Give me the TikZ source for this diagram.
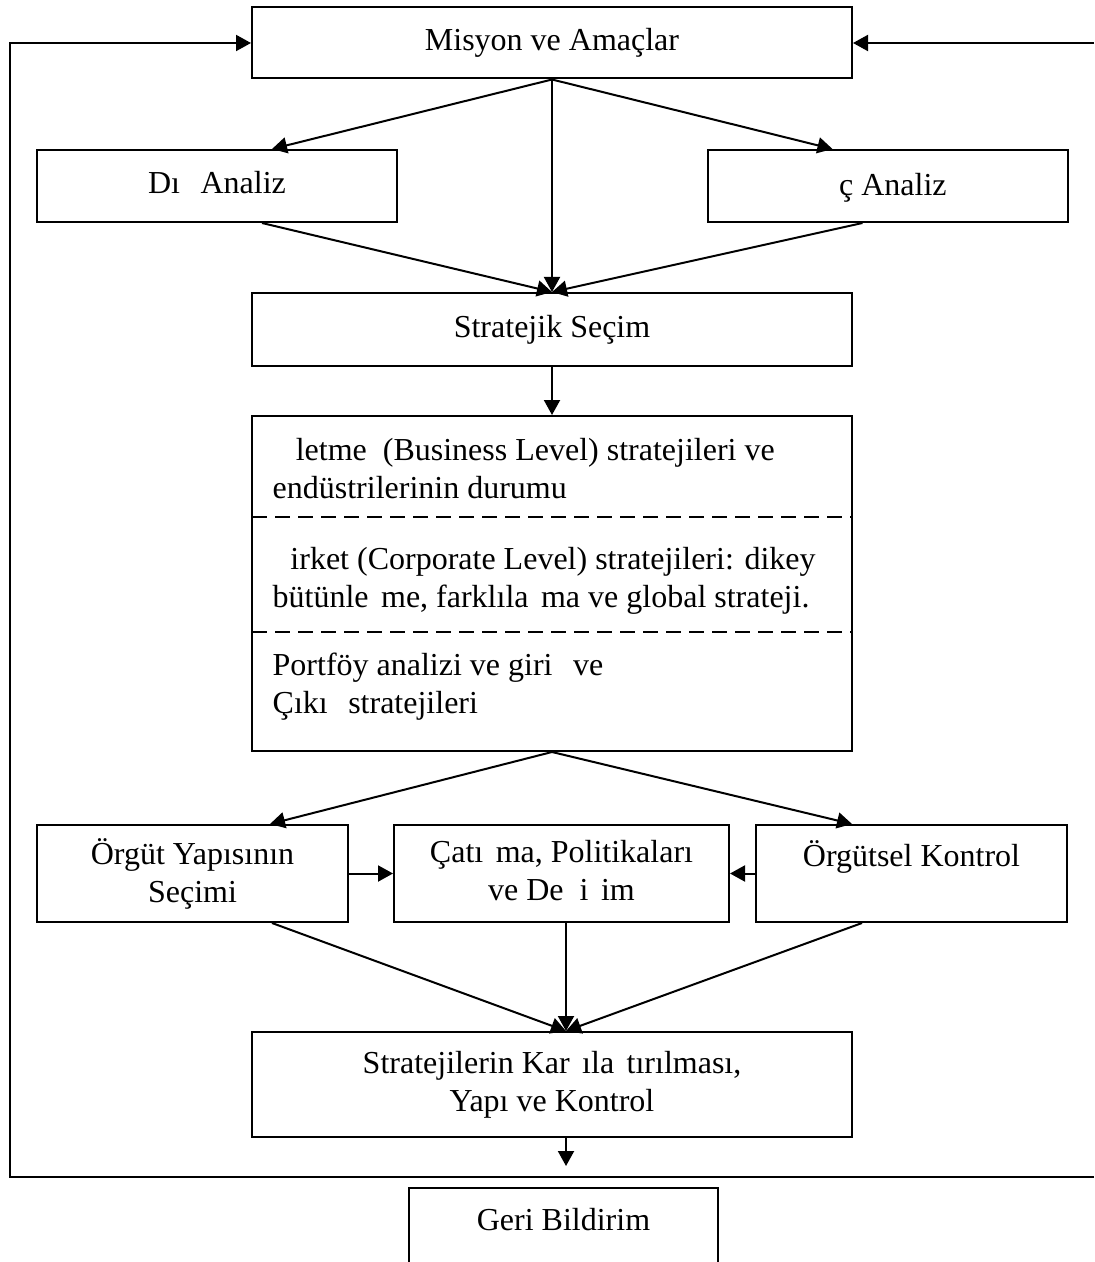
\documentclass[tikz,border=0pt]{standalone}
\usepackage{fontspec}
\setmainfont{Liberation Serif}
\usetikzlibrary{arrows.meta,calc}

\begin{document}
\begin{tikzpicture}[x=0.5pt,y=-0.5pt,line width=1pt,
    every node/.style={font=\fontsize{16}{19}\selectfont},
    box/.style={draw, inner sep=0pt, align=center},
    >={Triangle[length=7.5pt,width=8pt]}]
    \useasboundingbox (0,0) rectangle (1094,1262);

    \node[box, minimum width=300pt, minimum height=35.5pt] (misyon) at (552,43) {Misyon ve Amaçlar};
    \node[box, minimum width=180pt, minimum height=36pt] (dis) at (217,186) {Dı\phantom{ş} Analiz};
    \node[box, minimum width=180pt, minimum height=36pt] (ic) at (887.5,186) {\phantom{İ}ç Analiz};
    \node[box, minimum width=300pt, minimum height=36.5pt] (secim) at (552,329.5) {Stratejik Seçim};

    \node[box, minimum width=300pt, minimum height=167.5pt] (duzey) at (552,583.5) {};
    \draw[dashed, dash pattern=on 7.5pt off 4pt] (252,517) -- (852,517);
    \draw[dashed, dash pattern=on 7.5pt off 4pt] (252,632) -- (852,632);
    \node[anchor=west, align=left] (isletme) at (265,466) {\phantom{İş}letme\ \ (Business Level) stratejileri ve\\endüstrilerinin durumu};
    \node[anchor=west, align=left] (sirket) at (265,581) {\phantom{Ş}irket (Corporate Level) stratejileri: dikey\\bütünle\phantom{ş}me, farklıla\phantom{ş}ma ve global strateji.};
    \node[anchor=west, align=left] (portfoy) at (265,687) {Portföy analizi ve giri\phantom{ş} ve\\Çıkı\phantom{ş} stratejileri};

    \node[box, minimum width=155.5pt, minimum height=48.5pt] (orgut) at (192.5,873.5) {Örgüt Yapısının\\Seçimi};
    \node[box, minimum width=167.5pt, minimum height=48.5pt] (catisma) at (561.5,873.5) {Çatı\phantom{ş}ma, Politikaları\\ve De\phantom{ğ}i\phantom{ş}im};
    \node[box, minimum width=155.5pt, minimum height=48.5pt] (kontrol) at (911.5,873.5) {};
    \node (kontroltxt) at (911.5,857) {Örgütsel Kontrol};

    \node[box, minimum width=300pt, minimum height=52.5pt] (karsi) at (552,1084.5) {Stratejilerin Kar\phantom{ş}ıla\phantom{ş}tırılması,\\Yapı ve Kontrol};
    \node (geri) at (563.5,1220) {Geri Bildirim};
    \draw (409,1262) |- (718,1188) -- (718,1262);

    \draw[->] (misyon.south) -- ([xshift=27.5pt]dis.north);
    \draw[->] (misyon.south) -- ([xshift=-27.5pt]ic.north);
    \draw[->] (misyon.south) -- (secim.north);
    \draw[->] ([xshift=22.5pt]dis.south) -- (secim.north);
    \draw[->] ([xshift=-12.5pt]ic.south) -- (secim.north);
    \draw[->] (secim.south) -- (duzey.north);

    \draw[->] (duzey.south) -- ([xshift=38.75pt]orgut.north);
    \draw[->] (duzey.south) -- ([xshift=-29.75pt]kontrol.north);
    \draw[->] (orgut.east) -- (catisma.west);
    \draw[->] (kontrol.west) -- (catisma.east);

    \coordinate (kin) at (566,1031);
    \draw[->] ([xshift=39.75pt]orgut.south) -- (kin);
    \draw[->] (catisma.south -| kin) -- (kin);
    \draw[->] ([xshift=-24.75pt]kontrol.south) -- (kin);
    \coordinate (kout) at (566,1166);
    \draw[->] (karsi.south -| kout) -- (kout);

    \coordinate (fbl) at (10,1177);
    \coordinate (fbr) at (1094,1177);
    \coordinate (fbt) at (1094,43);
    \draw[->] (fbr) -- (fbl) |- (misyon.west);
    \draw[->] (fbt) -- (misyon.east);
\end{tikzpicture}
\end{document}
